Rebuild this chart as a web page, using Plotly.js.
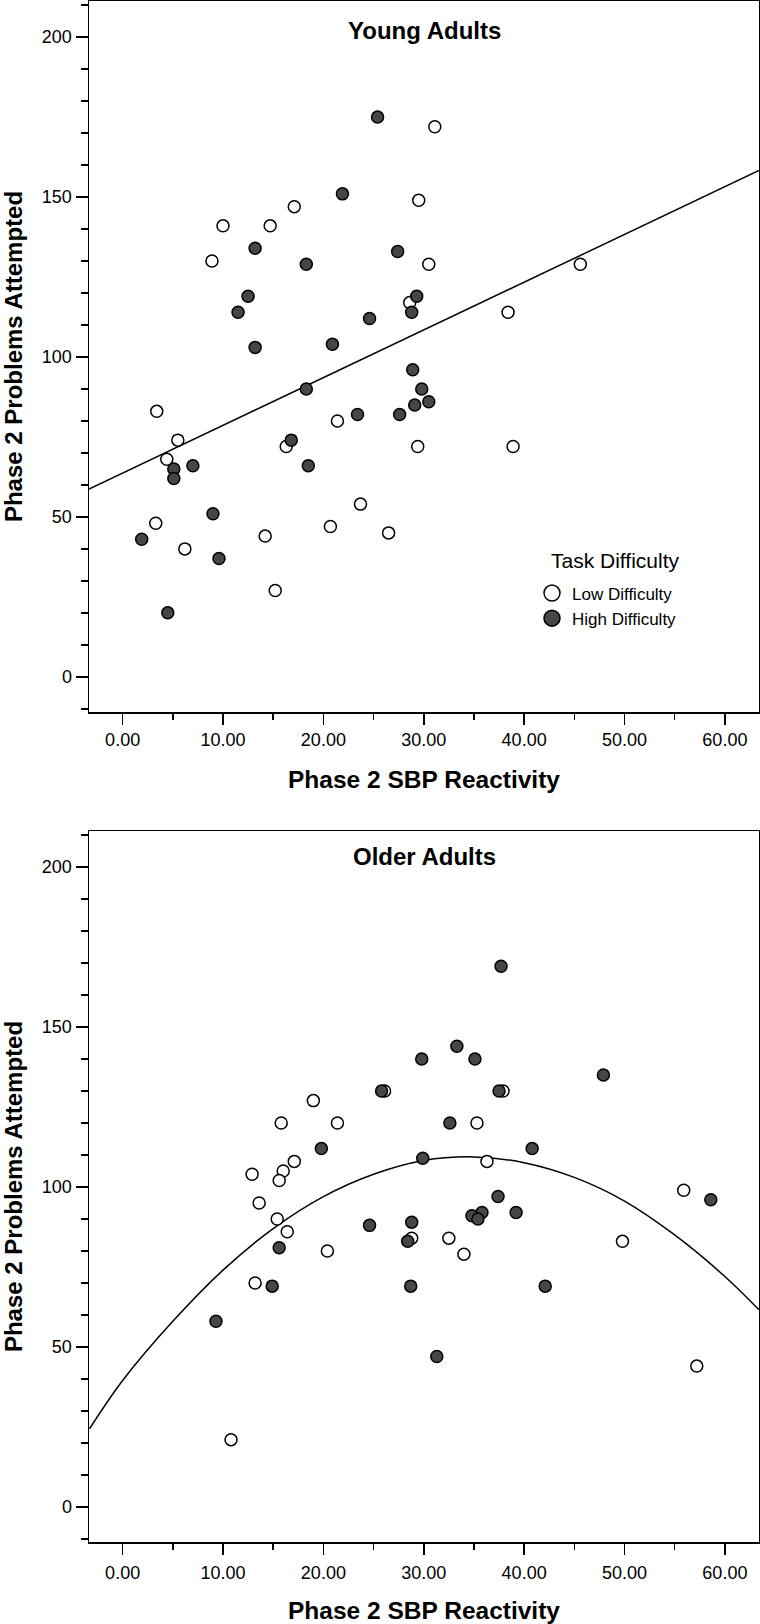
<!DOCTYPE html>
<html>
<head>
<meta charset="utf-8">
<script src="https://cdn.plot.ly/plotly-3.0.1.min.js"></script>
<style>
  html, body { margin: 0; padding: 0; background: #fff; }
  #chart { width: 760px; height: 1624px; }
</style>
</head>
<body>
<div id="chart"></div>
<script>
// values (x = Phase 2 SBP Reactivity, y = Phase 2 Problems Attempted)

// Young adults
var youngLowX = [8.9, 10.0, 14.7, 17.1, 31.1, 29.5, 30.5, 45.6, 28.6, 38.4, 29.4, 38.9, 26.5, 3.4, 21.4, 5.5, 16.3, 4.4, 23.7, 3.3, 20.7, 14.2, 6.2, 15.2];
var youngLowY = [130, 141, 141, 147, 172, 149, 129, 129, 117, 114, 72, 72, 45, 83, 80, 74, 72, 68, 54, 48, 47, 44, 40, 27];
var youngHighX = [21.9, 13.2, 18.3, 12.5, 11.5, 13.2, 20.9, 24.6, 25.4, 18.3, 27.4, 29.3, 28.8, 28.9, 29.8, 29.1, 30.5, 27.6, 23.4, 16.8, 5.1, 7.0, 18.5, 5.1, 9.0, 1.9, 9.6, 4.5];
var youngHighY = [151, 134, 129, 119, 114, 103, 104, 112, 175, 90, 133, 119, 114, 96, 90, 85, 86, 82, 82, 74, 65, 66, 66, 62, 51, 43, 37, 20];
// linear fit line, end points as drawn
var youngFitX = [-3.35, 63.4];
var youngFitY = [58.7, 158.3];

// Older adults
var olderLowX = [19.0, 15.8, 21.4, 17.1, 16.0, 12.9, 15.6, 13.6, 15.4, 16.4, 20.4, 13.2, 10.8, 26.1, 37.9, 35.3, 36.3, 55.9, 28.8, 32.5, 34.0, 49.8, 57.2];
var olderLowY = [127, 120, 120, 108, 105, 104, 102, 95, 90, 86, 80, 70, 21, 130, 130, 120, 108, 99, 84, 84, 79, 83, 44];
var olderHighX = [19.8, 37.7, 33.3, 29.8, 35.1, 47.9, 25.8, 37.5, 32.6, 40.8, 29.9, 58.6, 37.4, 39.2, 35.8, 34.8, 35.4, 28.8, 28.4, 28.7, 42.1, 31.3, 15.6, 24.6, 14.9, 9.3];
var olderHighY = [112, 169, 144, 140, 140, 135, 130, 130, 120, 112, 109, 96, 97, 92, 92, 91, 90, 89, 83, 69, 69, 47, 81, 88, 69, 58];
// quadratic fit curve
var olderFitX = [-3.3, 0, 5, 10, 15, 20, 25, 30, 35, 40, 45, 50, 55, 60, 63.4];
var olderFitY = [24.4, 39.5, 58, 74, 87, 97, 104, 108.3, 109.4, 107.6, 103, 95.6, 85, 72, 61.6];

var groupNames = ['Low Difficulty', 'High Difficulty'];
var legendTitle = 'Task Difficulty';
var xTicks = [0, 10, 20, 30, 40, 50, 60];
var yTicks = [0, 50, 100, 150, 200];

var FONT = 'Liberation Sans, Arial, sans-serif';
var DARK = '#464646';
var H = 1624, W = 760;

function pointTrace(x, y, fill, xa, ya) {
    return {
        x: x, y: y, xaxis: xa, yaxis: ya,
        type: 'scatter', mode: 'markers', showlegend: false, hoverinfo: 'skip',
        marker: {size: 12, color: fill, line: {color: '#000', width: 1.5}}
    };
}

function lineTrace(x, y, xa, ya, shape) {
    return {
        x: x, y: y, xaxis: xa, yaxis: ya,
        type: 'scatter', mode: 'lines', showlegend: false, hoverinfo: 'skip',
        line: {color: '#000', width: 1.5, shape: shape}
    };
}

var traces = [
    lineTrace(youngFitX, youngFitY, 'x', 'y', 'linear'),
    pointTrace(youngLowX, youngLowY, '#fff', 'x', 'y'),
    pointTrace(youngHighX, youngHighY, DARK, 'x', 'y'),
    lineTrace(olderFitX, olderFitY, 'x2', 'y2', 'spline'),
    pointTrace(olderLowX, olderLowY, '#fff', 'x2', 'y2'),
    pointTrace(olderHighX, olderHighY, DARK, 'x2', 'y2'),
    // legend entries only
    {x: [null], y: [null], type: 'scatter', mode: 'markers', name: groupNames[0],
     marker: {size: 16, color: '#fff', line: {color: '#000', width: 1.5}}},
    {x: [null], y: [null], type: 'scatter', mode: 'markers', name: groupNames[1],
     marker: {size: 16, color: DARK, line: {color: '#000', width: 1.5}}}
];

function xAxis(anchor, labelGap, titleGap) {
    return {
        domain: [89 / W, 759 / W], anchor: anchor,
        range: [-3.35, 63.4],
        tickvals: xTicks, tickformat: '.2f',
        ticks: 'outside', ticklen: 11, tickwidth: 1.5, tickcolor: '#000',
        minor: {dtick: 5, tick0: 0, ticks: 'outside', ticklen: 6, tickwidth: 1.5, tickcolor: '#000'},
        tickfont: {family: FONT, size: 18, color: '#000'},
        ticklabelstandoff: labelGap,
        showgrid: false, zeroline: false,
        showline: true, linecolor: '#000', linewidth: 1.5, mirror: true,
        title: {text: '<b>Phase 2 SBP Reactivity</b>', font: {family: FONT, size: 24.5, color: '#000'}, standoff: titleGap}
    };
}

function yAxis(top, bottom, anchor) {
    return {
        domain: [(H - bottom) / H, (H - top) / H], anchor: anchor,
        range: [-11, 211.3],
        tickvals: yTicks,
        ticks: 'outside', ticklen: 12, tickwidth: 1.5, tickcolor: '#000',
        minor: {dtick: 10, tick0: 0, ticks: 'outside', ticklen: 7, tickwidth: 1.5, tickcolor: '#000'},
        tickfont: {family: FONT, size: 18, color: '#000'},
        ticklabelstandoff: 0,
        showgrid: false, zeroline: false,
        showline: true, linecolor: '#000', linewidth: 1.5, mirror: true,
        title: {text: '<b>Phase 2 Problems Attempted</b>', font: {family: FONT, size: 24, color: '#000'}, standoff: 21}
    };
}

var layout = {
    width: W, height: H,
    margin: {l: 0, r: 0, t: 0, b: 0},
    paper_bgcolor: '#fff', plot_bgcolor: '#fff',
    font: {family: FONT, color: '#000'},
    xaxis: xAxis('y', 0, 22),
    yaxis: yAxis(1, 712, 'x'),
    xaxis2: xAxis('y2', 3, 26),
    yaxis2: yAxis(831, 1542, 'x2'),
    showlegend: true,
    legend: {
        x: 532 / W, y: (H - 575.5) / H, xanchor: 'left', yanchor: 'top',
        bgcolor: 'rgba(0,0,0,0)', borderwidth: 0,
        font: {family: FONT, size: 17, color: '#000'}
    },
    annotations: [
        {text: '<b>Young Adults</b>', xref: 'x domain', yref: 'y domain', x: 0.5, y: 0.959,
         xanchor: 'center', yanchor: 'middle', showarrow: false, font: {family: FONT, size: 24, color: '#000'}},
        {text: '<b>Older Adults</b>', xref: 'x2 domain', yref: 'y2 domain', x: 0.5, y: 0.9644,
         xanchor: 'center', yanchor: 'middle', showarrow: false, font: {family: FONT, size: 24, color: '#000'}},
        {text: legendTitle, xref: 'paper', yref: 'paper', x: 615 / W, y: (H - 560) / H,
         xanchor: 'center', yanchor: 'middle', showarrow: false, font: {family: FONT, size: 21, color: '#000'}}
    ]
};

Plotly.newPlot('chart', traces, layout, {staticPlot: true});
</script>
</body>
</html>
